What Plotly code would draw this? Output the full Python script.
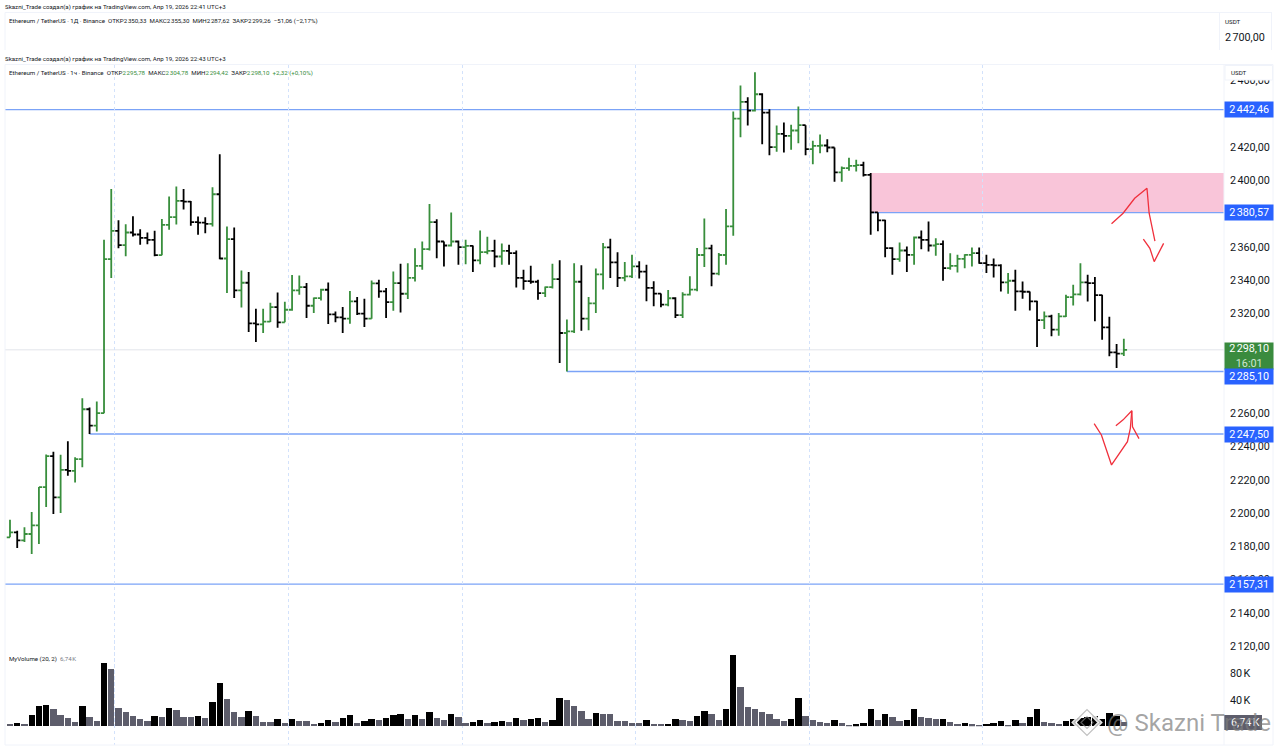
import plotly.graph_objects as go

open_price = [
    2185.4, 2188.4, 2183.6, 2187.4, 2192.6, 2215.6, 2234.2, 2209.4, 2226.0, 2225.4,
    2232.4, 2262.4, 2252.6, 2260.0, 2352.6, 2369.6, 2361.0, 2368.6, 2367.4, 2365.4,
    2364.2, 2355.0, 2373.2, 2377.8, 2387.6, 2387.2, 2374.8, 2374.6, 2373.8, 2391.6,
    2353.0, 2364.6, 2333.8, 2338.4, 2314.0, 2313.4, 2315.0, 2323.8, 2314.6, 2322.2,
    2333.8, 2335.8, 2324.6, 2329.2, 2334.2, 2319.4, 2317.6, 2316.8, 2327.2, 2319.8,
    2316.8, 2338.0, 2333.2, 2326.8, 2338.2, 2331.8, 2341.4, 2348.6, 2358.6, 2374.8,
    2363.2, 2360.8, 2363.2, 2359.8, 2360.6, 2351.8, 2356.8, 2357.6, 2354.2, 2357.6,
    2356.2, 2341.4, 2339.4, 2339.0, 2332.2, 2335.8, 2340.6, 2308.2, 2309.2, 2339.0,
    2316.8, 2326.0, 2343.4, 2359.7, 2350.7, 2341.3, 2342.3, 2348.3, 2345.1, 2335.3,
    2331.9, 2325.3, 2329.1, 2318.9, 2331.3, 2334.3, 2355.1, 2359.1, 2343.9, 2355.1,
    2372.3, 2437.1, 2447.1, 2441.9, 2451.7, 2440.7, 2419.9, 2427.9, 2426.7, 2429.9,
    2433.1, 2418.7, 2420.7, 2420.9, 2419.7, 2404.7, 2407.3, 2408.7, 2409.1, 2403.3,
    2380.7, 2375.9, 2359.2, 2352.6, 2357.8, 2355.2, 2365.6, 2364.2, 2360.8, 2361.6,
    2347.2, 2348.6, 2352.8, 2355.2, 2356.2, 2350.2, 2349.2, 2348.8, 2338.6, 2339.6,
    2333.2, 2333.0, 2327.2, 2316.0, 2318.2, 2310.2, 2318.2, 2329.8, 2331.4, 2338.6,
    2338.2, 2331.0, 2311.6, 2296.6, 2295.78,
]
high_price = [
    2196.0, 2189.4, 2191.4, 2200.6, 2215.6, 2235.2, 2236.8, 2235.0, 2243.2, 2233.6,
    2269.0, 2263.4, 2267.0, 2364.2, 2394.8, 2376.0, 2373.6, 2378.4, 2370.6, 2368.6,
    2369.6, 2376.8, 2390.2, 2396.2, 2394.8, 2387.6, 2378.2, 2377.8, 2395.8, 2415.6,
    2372.2, 2371.6, 2345.8, 2344.8, 2322.8, 2322.8, 2326.4, 2332.6, 2327.0, 2343.0,
    2342.8, 2338.2, 2329.6, 2334.8, 2338.6, 2321.2, 2323.8, 2333.4, 2329.8, 2328.8,
    2339.8, 2340.2, 2335.2, 2345.2, 2349.8, 2350.2, 2359.2, 2363.2, 2385.8, 2376.6,
    2363.2, 2380.6, 2363.8, 2364.2, 2360.8, 2369.8, 2366.0, 2364.2, 2362.0, 2361.2,
    2357.8, 2346.2, 2348.6, 2340.2, 2336.2, 2349.8, 2352.0, 2316.4, 2350.2, 2349.0,
    2329.8, 2347.0, 2362.3, 2364.9, 2356.7, 2350.9, 2355.3, 2351.3, 2349.3, 2339.3,
    2331.9, 2334.1, 2329.7, 2332.7, 2342.3, 2359.3, 2377.1, 2361.3, 2356.3, 2382.7,
    2441.3, 2456.9, 2449.9, 2464.9, 2452.3, 2442.7, 2432.9, 2434.7, 2433.3, 2444.3,
    2433.1, 2423.7, 2427.5, 2424.7, 2419.7, 2408.3, 2413.5, 2412.3, 2411.1, 2404.3,
    2380.7, 2376.3, 2359.8, 2362.6, 2360.2, 2366.2, 2369.8, 2375.2, 2365.2, 2363.8,
    2356.2, 2355.2, 2355.6, 2359.6, 2359.6, 2355.2, 2353.0, 2349.6, 2344.2, 2346.2,
    2339.2, 2333.2, 2327.6, 2321.2, 2319.2, 2320.2, 2331.2, 2337.2, 2350.2, 2343.2,
    2341.8, 2331.2, 2318.0, 2301.6, 2304.78,
]
low_price = [
    2185.4, 2179.0, 2182.6, 2175.4, 2181.4, 2203.6, 2199.4, 2200.0, 2222.4, 2218.4,
    2227.6, 2247.5, 2249.0, 2260.0, 2341.2, 2359.2, 2354.4, 2366.2, 2361.2, 2361.6,
    2354.4, 2355.0, 2370.2, 2373.4, 2382.4, 2372.6, 2367.2, 2368.2, 2372.2, 2352.6,
    2332.2, 2329.2, 2323.6, 2308.8, 2302.8, 2308.2, 2314.8, 2311.4, 2314.6, 2321.6,
    2331.2, 2317.2, 2320.2, 2327.8, 2313.6, 2314.6, 2308.2, 2313.8, 2319.0, 2311.8,
    2316.8, 2329.4, 2317.2, 2321.6, 2320.6, 2328.6, 2339.2, 2346.2, 2357.8, 2353.2,
    2348.2, 2360.2, 2349.2, 2349.6, 2344.8, 2349.6, 2355.6, 2347.8, 2349.2, 2349.2,
    2335.6, 2334.2, 2337.8, 2328.2, 2329.8, 2335.0, 2290.2, 2285.1, 2308.2, 2309.6,
    2309.8, 2320.2, 2334.3, 2341.3, 2335.9, 2339.3, 2341.3, 2340.9, 2327.3, 2324.3,
    2323.7, 2324.3, 2317.3, 2317.3, 2330.7, 2333.3, 2347.9, 2336.3, 2342.9, 2349.3,
    2366.7, 2425.9, 2432.9, 2441.3, 2421.7, 2415.1, 2417.1, 2416.7, 2418.3, 2422.3,
    2415.1, 2409.7, 2416.3, 2416.9, 2399.1, 2399.1, 2405.7, 2405.3, 2402.3, 2367.3,
    2369.3, 2353.7, 2343.2, 2351.0, 2344.8, 2349.2, 2358.6, 2357.2, 2354.6, 2339.6,
    2346.2, 2344.6, 2347.2, 2348.2, 2349.8, 2344.2, 2341.6, 2333.2, 2331.8, 2321.6,
    2328.8, 2321.8, 2299.8, 2310.6, 2306.2, 2306.6, 2317.8, 2324.8, 2330.8, 2327.2,
    2315.2, 2304.2, 2294.2, 2287.2, 2294.42,
]
close_price = [
    2188.4, 2183.6, 2187.4, 2192.6, 2215.6, 2234.2, 2209.4, 2226.0, 2225.4, 2232.4,
    2262.4, 2252.6, 2260.0, 2352.6, 2369.6, 2361.0, 2368.6, 2367.4, 2365.4, 2364.2,
    2355.0, 2373.2, 2377.8, 2387.6, 2387.2, 2374.8, 2374.6, 2373.8, 2391.6, 2353.0,
    2364.6, 2333.8, 2338.4, 2314.0, 2313.4, 2315.0, 2323.8, 2314.6, 2322.2, 2333.8,
    2335.8, 2324.6, 2329.2, 2334.2, 2319.4, 2317.6, 2316.8, 2327.2, 2319.8, 2316.8,
    2338.0, 2333.2, 2326.8, 2338.2, 2331.8, 2341.4, 2348.6, 2358.6, 2374.8, 2363.2,
    2360.8, 2363.2, 2359.8, 2360.6, 2351.8, 2356.8, 2357.6, 2354.2, 2357.6, 2356.2,
    2341.4, 2339.4, 2339.0, 2332.2, 2335.8, 2340.6, 2308.2, 2309.2, 2339.0, 2316.8,
    2326.0, 2343.4, 2359.7, 2350.7, 2341.3, 2342.3, 2348.3, 2345.1, 2335.3, 2331.9,
    2325.3, 2329.1, 2318.9, 2331.3, 2334.3, 2355.1, 2359.1, 2343.9, 2355.1, 2372.3,
    2437.1, 2447.1, 2441.9, 2451.7, 2440.7, 2419.9, 2427.9, 2426.7, 2429.9, 2433.1,
    2418.7, 2420.7, 2420.9, 2419.7, 2404.7, 2407.3, 2408.7, 2409.1, 2403.3, 2380.7,
    2375.9, 2359.2, 2352.6, 2357.8, 2355.2, 2365.6, 2364.2, 2360.8, 2361.6, 2347.2,
    2348.6, 2352.8, 2355.2, 2356.2, 2350.2, 2349.2, 2348.8, 2338.6, 2339.6, 2333.2,
    2333.0, 2327.2, 2316.0, 2318.2, 2310.2, 2318.2, 2329.8, 2331.4, 2338.6, 2338.2,
    2331.0, 2311.6, 2296.6, 2295.78, 2298.10,
]
volume_k = [
    3.5, 5.1, 4.1, 17.2, 30.9, 31.9, 26.4, 16.7, 12.7, 7.1,
    30.4, 14.2, 8.6, 95.8, 86.7, 27.4, 22.3, 15.2, 10.6, 8.1,
    16.2, 14.2, 27.4, 25.4, 13.7, 13.7, 15.2, 12.7, 37.5, 65.4,
    41.6, 21.3, 14.2, 23.3, 15.7, 7.1, 7.1, 10.6, 5.1, 11.7,
    8.1, 7.6, 3.5, 5.1, 9.1, 6.1, 12.2, 17.2, 4.6, 8.1,
    10.6, 9.1, 12.2, 16.7, 18.3, 11.7, 17.2, 10.6, 21.3, 12.2,
    9.6, 18.3, 13.7, 5.1, 6.1, 9.1, 5.1, 7.1, 8.1, 6.1,
    13.2, 9.6, 11.2, 12.7, 6.6, 9.1, 43.1, 40.1, 30.4, 23.3,
    11.7, 19.8, 19.3, 18.3, 8.1, 8.1, 5.6, 5.6, 9.1, 4.1,
    3.5, 4.1, 11.7, 9.1, 8.1, 15.2, 23.3, 18.3, 10.1, 25.9,
    108.0, 59.3, 28.9, 26.4, 21.8, 18.3, 11.2, 7.6, 11.2, 42.6,
    15.2, 9.6, 6.6, 5.6, 9.1, 5.1, 2.5, 3.0, 5.1, 26.4,
    9.6, 18.3, 14.7, 8.1, 10.1, 26.4, 13.7, 12.7, 10.6, 11.7,
    6.1, 4.1, 4.6, 3.0, 2.5, 3.5, 5.6, 8.6, 2.5, 9.6,
    5.1, 14.7, 25.9, 6.6, 4.6, 3.5, 8.1, 11.2, 12.7, 14.2,
    15.2, 10.6, 19.8, 15.2, 6.74,
]
# k = black bar, g = grey bar
volume_kind = list(
    "gkgkkkgggg" "kggkgggggg" "kgkgggkgkk" "gggkgggkgk" "gggkkgkkgk"
    "kgkkkgkgkg" "gkggkkgkkg" "kgkkgkkggg" "gkggggggkg" "gkkggkkggk"
    "kgggggggkk" "ggggkggkkk" "gkggkkgggk" "ggkggkkkgk" "gkkgggkkkk"
    "kkkkg"
)

bar_index = list(range(len(close_price)))

# 2440, 2380, 2300 and 2280 sit fully behind the price labels, so they are left out
price_ticks = [2120, 2140, 2160, 2180, 2200, 2220, 2240, 2260, 2320, 2340, 2360, 2400, 2420, 2460]
price_tick_text = [f"2\u202f{p - 2000:03d},00" for p in price_ticks]
volume_ticks = [40, 80]
volume_tick_text = ["40\u202fK", "80\u202fK"]
grid_index = [14.5, 38.5, 62.5, 86.5, 110.5, 134.5]

level_prices = [2442.46, 2380.57, 2285.10, 2247.50, 2157.31]
level_starts = [-0.69, 119, 77, 11, -0.69]
last_price = 2298.10
zone_top = 2404.4
zone_bottom = 2380.57
zone_start = 119

red_strokes = [
    ([152.3, 153.9, 155.5, 157.2, 157.5, 158.3], [2373.9, 2380.2, 2389.2, 2395.2, 2380.2, 2363.5]),
    ([156.7, 157.6, 158.2, 159.5], [2364.7, 2359.1, 2351.1, 2362.1]),
    ([149.9, 150.9, 152.3, 153.2, 154.5, 154.9, 155.1], [2253.7, 2246.9, 2228.9, 2234.9, 2242.9, 2250.9, 2261.5]),
    ([152.9, 153.9, 155.1, 155.2, 156.1], [2252.5, 2256.0, 2261.5, 2251.9, 2244.7]),
]

W = 1280
H = 748
GREEN = "#388e3c"
BLUE = "#2962ff"
LINE_BLUE = "#7ba3f7"
FAINT = "#f0f3fa"
FONT = "Roboto, sans-serif"
AXIS_SIZE = 10.8


def px(v):
    return v / W


def py(v):
    return 1 - v / H


fig = go.Figure()

fig.add_trace(go.Ohlc(
    x=bar_index, open=open_price, high=high_price, low=low_price, close=close_price,
    increasing=dict(line=dict(color=GREEN, width=1.8)),
    decreasing=dict(line=dict(color="#000000", width=1.8)),
    tickwidth=0.45, xaxis="x", yaxis="y", showlegend=False,
))
fig.add_trace(go.Bar(
    x=bar_index, y=volume_k, width=0.88,
    marker=dict(color=["#000000" if k == "k" else "#5d5d6b" for k in volume_kind], line=dict(width=0)),
    xaxis="x", yaxis="y2", showlegend=False,
))
for xs, ys in red_strokes:
    fig.add_trace(go.Scatter(x=xs, y=ys, mode="lines", line=dict(color="#f0303c", width=1.3),
                             xaxis="x", yaxis="y", showlegend=False))

shapes = []
# pink zone and levels
shapes.append(dict(type="rect", xref="x", yref="y", x0=zone_start, x1=167.85, y0=zone_bottom, y1=zone_top,
                   fillcolor="#f9c5d9", line_width=0, layer="below"))
shapes.append(dict(type="line", xref="x", yref="y", x0=-0.69, x1=167.85, y0=last_price, y1=last_price,
                   line=dict(color="#e2e4ea", width=1), layer="below"))
for lv, st in zip(level_prices, level_starts):
    shapes.append(dict(type="line", xref="x", yref="y", x0=st, x1=167.85, y0=lv, y1=lv,
                       line=dict(color=LINE_BLUE, width=1.4), layer="below"))

# pane borders
for x0, y0, x1, y1 in [
    (5, 12.5, 1272, 12.5), (5, 12.5, 5, 50), (1219.5, 12.5, 1219.5, 50), (1271.5, 12.5, 1271.5, 50),
    (5, 64.5, 1273, 64.5), (5, 64.5, 5, 745), (1224, 64.5, 1224, 745), (1273, 64.5, 1273, 745),
    (5, 745, 1273, 745),
]:
    shapes.append(dict(type="line", xref="paper", yref="paper", x0=px(x0), x1=px(x1), y0=py(y0), y1=py(y1),
                       line=dict(color=FAINT, width=1)))

# white box behind the USDT caption, it cuts the 2 460 tick like in the original
shapes.append(dict(type="rect", xref="paper", yref="paper", x0=px(1225), x1=px(1272.5), y0=py(65.5), y1=py(80),
                   fillcolor="white", line=dict(color=FAINT, width=1), layer="above"))
shapes.append(dict(type="rect", xref="paper", yref="paper", x0=px(1224.3), x1=px(1262), y0=py(715), y1=py(730),
                   fillcolor="#5d5d6b", line_width=0, layer="above"))
# watermark logo
for size, col, w in [(13, "rgba(255,255,255,0.9)", 4), (13, "rgba(150,150,150,0.6)", 1.2), (6, "rgba(150,150,150,0.6)", 1.2)]:
    cx, cy = 1087, 722.5
    path = "M {} {} L {} {} L {} {} L {} {} Z".format(
        px(cx - size), py(cy), px(cx), py(cy - size), px(cx + size), py(cy), px(cx), py(cy + size))
    shapes.append(dict(type="path", xref="paper", yref="paper", path=path, line=dict(color=col, width=w), layer="above"))


def note(text, x, y, size=6.15, color="#131722", **kw):
    # annotations have about 2px of padding, take it off so x is where the text starts
    return dict(text=text, xref="paper", yref="paper", x=px(x - 2), y=py(y), xanchor="left", yanchor="middle",
                showarrow=False, align="left", font=dict(family=FONT, size=size, color=color), **kw)


def green(t):
    return f'<span style="color:{GREEN}">{t}</span>'


def price_box(text, price, shift=0):
    return dict(text=text, xref="paper", yref="y", x=px(1224.3), y=price, xanchor="left", yanchor="middle",
                yshift=shift, showarrow=False, width=48.4, height=14.5, borderpad=0, bgcolor=BLUE, align="center",
                font=dict(family=FONT, size=AXIS_SIZE, color="white"))


annotations = [
    note("Skazni_Trade создал(а) график на TradingView.com, Апр 19, 2026 22:41 UTC+3", 5, 7.5),
    note("Ethereum / TetherUS · 1Д · Binance\u2002ОТКР2\u202f350,33\u2002МАКС2\u202f355,30\u2002МИН2\u202f287,62"
         "\u2002ЗАКР2\u202f299,26\u2002−51,06 (−2,17%)", 9, 21.5),
    note("Skazni_Trade создал(а) график на TradingView.com, Апр 19, 2026 22:43 UTC+3", 5, 58.5),
    note("Ethereum / TetherUS · 1ч · Binance\u2002ОТКР" + green("2\u202f295,78") + "\u2002МАКС" + green("2\u202f304,78")
         + "\u2002МИН" + green("2\u202f294,42") + "\u2002ЗАКР" + green("2\u202f298,10") + "\u2002"
         + green("+2,32 (+0,10%)"), 9, 72.5),
    note("MyVolume (20, 2)\u2002" + '<span style="color:#787b86">6,74\u202fK</span>', 9, 658.5),
    note("USDT", 1225, 22),
    note("2\u202f700,00", 1225, 38, size=AXIS_SIZE),
    note("USDT", 1230.5, 73),
    note("6,74\u202fK", 1231, 722.5, size=AXIS_SIZE, color="white"),
    dict(text='2\u202f298,10<br><span style="color:#cfe6d0">16:01</span>', xref="paper", yref="y", x=px(1224.3),
         y=last_price, xanchor="left", yanchor="middle", yshift=-6, showarrow=False, width=48.4, height=26,
         borderpad=0, bgcolor="#3a8b3e", align="center", font=dict(family=FONT, size=AXIS_SIZE, color="white")),
    price_box("2\u202f442,46", level_prices[0]),
    price_box("2\u202f380,57", level_prices[1]),
    price_box("2\u202f285,10", level_prices[2], shift=-5),
    price_box("2\u202f247,50", level_prices[3]),
    price_box("2\u202f157,31", level_prices[4]),
    note("@ Skazni Trade", 1107, 723, size=24, color="rgba(125,125,125,0.7)"),
]

fig.update_layout(
    width=W, height=H, margin=dict(l=0, r=0, t=0, b=0), autosize=False,
    paper_bgcolor="white", plot_bgcolor="rgba(0,0,0,0)", showlegend=False, bargap=0,
    font=dict(family=FONT, size=AXIS_SIZE, color="#131722"),
    shapes=shapes, annotations=annotations,
    xaxis=dict(domain=[px(5), px(1224)], range=[-0.69, 167.85], rangeslider=dict(visible=False),
               tickvals=grid_index, showticklabels=False, ticks="", showgrid=True,
               griddash="dot", gridcolor="#d3e2fb", gridwidth=1, zeroline=False, showline=False,
               anchor="y"),
    yaxis=dict(domain=[py(745), py(65)], range=[2060.6, 2469.28], side="right", anchor="x",
               tickvals=price_ticks, ticktext=price_tick_text, ticks="", ticklabelstandoff=5,
               tickfont=dict(family=FONT, size=AXIS_SIZE, color="#131722"),
               showgrid=False, zeroline=False, showline=False),
    yaxis2=dict(domain=[py(726.3), py(640)], range=[0, 131.2], side="right", anchor="x",
                tickvals=volume_ticks, ticktext=volume_tick_text, ticks="", ticklabelstandoff=5,
                tickfont=dict(family=FONT, size=AXIS_SIZE, color="#131722"),
                showgrid=False, zeroline=False, showline=False),
)

# the page has a default body margin, the picture has to start at 0,0
fig.write_html("out.html", config={"displayModeBar": False}, post_script="document.body.style.margin='0';")
